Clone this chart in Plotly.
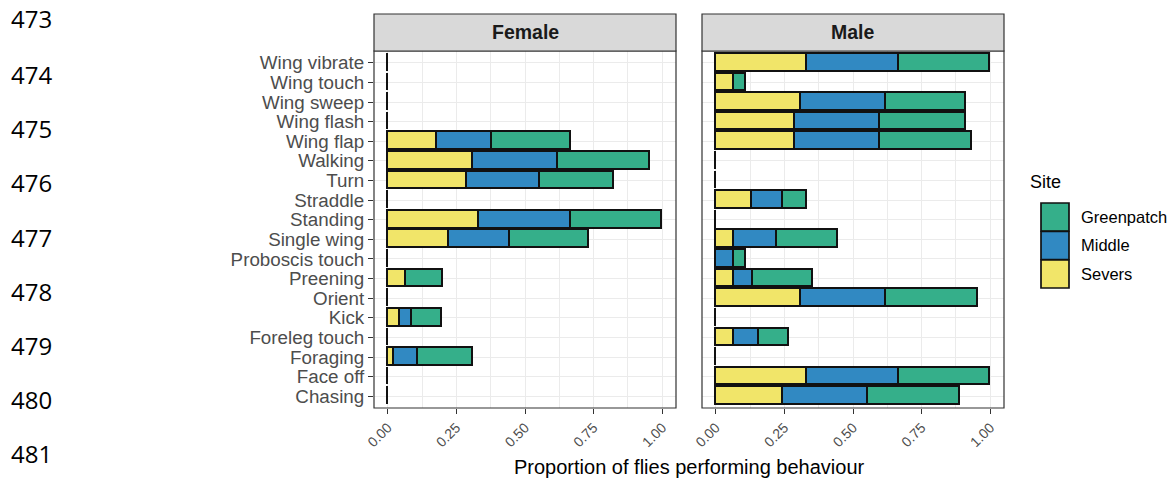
import plotly.graph_objects as go

# ---------------- data ----------------
behaviours = ["Chasing", "Face off", "Foraging", "Foreleg touch", "Kick", "Orient",
              "Preening", "Proboscis touch", "Single wing", "Standing", "Straddle",
              "Turn", "Walking", "Wing flap", "Wing flash", "Wing sweep",
              "Wing touch", "Wing vibrate"]

sites = ["Severs", "Middle", "Greenpatch"]

# stacked segment values (bottom -> top order of behaviours above)
female_severs = [0, 0, 0.022, 0, 0.044, 0, 0.067, 0, 0.222, 0.333, 0,
                 0.289, 0.311, 0.178, 0, 0, 0, 0]
female_middle = [0, 0, 0.089, 0, 0.044, 0, 0, 0, 0.222, 0.333, 0,
                 0.267, 0.311, 0.200, 0, 0, 0, 0]
female_greenpatch = [0, 0, 0.200, 0, 0.111, 0, 0.133, 0, 0.289, 0.333, 0,
                     0.267, 0.333, 0.289, 0, 0, 0, 0]

male_severs = [0.244, 0.333, 0, 0.067, 0, 0.311, 0.067, 0, 0.067, 0, 0.133,
               0, 0, 0.289, 0.289, 0.311, 0.067, 0.333]
male_middle = [0.311, 0.333, 0, 0.089, 0, 0.311, 0.067, 0.067, 0.156, 0, 0.111,
               0, 0, 0.311, 0.311, 0.311, 0, 0.333]
male_greenpatch = [0.333, 0.333, 0, 0.111, 0, 0.333, 0.222, 0.044, 0.222, 0, 0.089,
                   0, 0, 0.333, 0.311, 0.289, 0.044, 0.333]

x_ticks = [0, 0.25, 0.5, 0.75, 1.0]
x_tick_labels = ["0.00", "0.25", "0.50", "0.75", "1.00"]
x_minor = [0.125, 0.375, 0.625, 0.875]
panels = ["Female", "Male"]
line_numbers = ["473", "474", "475", "476", "477", "478", "479", "480", "481"]
line_number_y = [19, 74, 128, 183, 237, 291, 345, 399, 453]

colors = {"Severs": "#F1E569", "Middle": "#3189C2", "Greenpatch": "#35AF8A"}

# ---------------- figure ----------------
W, H = 1172, 481
fig = go.Figure()

panel_data = {
    "Female": [female_severs, female_middle, female_greenpatch],
    "Male": [male_severs, male_middle, male_greenpatch],
}

for pi, panel in enumerate(panels):
    xa = "x" if pi == 0 else "x2"
    ya = "y" if pi == 0 else "y2"
    for si, site in enumerate(sites):
        fig.add_trace(go.Bar(
            x=panel_data[panel][si], y=behaviours, orientation="h",
            xaxis=xa, yaxis=ya, width=0.9, name=site,
            marker=dict(color=colors[site], line=dict(color="#111111", width=1.7)),
            showlegend=False, hoverinfo="skip",
        ))

def px_x(p):
    return p / W

def px_y(p):
    return (H - p) / H

left_dom = [px_x(374), px_x(676)]
right_dom = [px_x(702), px_x(1004)]
y_dom = [px_y(408), px_y(51)]

axis_common = dict(
    range=[-0.05, 1.05], tickmode="array", tickvals=x_ticks, ticktext=x_tick_labels,
    tickangle=-45, ticks="outside", ticklen=5, tickcolor="#333333", tickwidth=1.1,
    tickfont=dict(family="Liberation Sans, Arial", size=14, color="#4D4D4D"),
    showgrid=True, gridcolor="#EBEBEB", gridwidth=1.1, zeroline=False,
    minor=dict(tickvals=x_minor, showgrid=True, gridcolor="#EBEBEB", gridwidth=0.6),
    showline=False, fixedrange=True, automargin=False,
)

fig.update_layout(
    width=W, height=H, margin=dict(l=0, r=0, t=0, b=0, autoexpand=False),
    plot_bgcolor="white", paper_bgcolor="white",
    barmode="stack", bargap=0,
    xaxis=dict(domain=left_dom, anchor="y", **axis_common),
    xaxis2=dict(domain=right_dom, anchor="y2", **axis_common),
    yaxis=dict(domain=y_dom, anchor="x", categoryorder="array", categoryarray=behaviours,
               tickmode="array", tickvals=behaviours, ticktext=behaviours,
               range=[-0.6, 17.6], ticks="outside", ticklen=5, tickcolor="#333333",
               tickwidth=1.1, showgrid=True, gridcolor="#EBEBEB", gridwidth=1.1,
               tickfont=dict(family="Liberation Sans, Arial", size=18.8, color="#4D4D4D"),
               zeroline=False, fixedrange=True, automargin=False),
    yaxis2=dict(domain=y_dom, anchor="x2", matches="y", categoryorder="array",
                categoryarray=behaviours, tickmode="array", tickvals=behaviours,
                range=[-0.6, 17.6], showticklabels=False,
                ticks="", showgrid=True, gridcolor="#EBEBEB", gridwidth=1.1,
                zeroline=False, fixedrange=True, automargin=False),
    font=dict(family="Liberation Sans, Arial"),
)

shapes = []
annotations = []
for pi, panel in enumerate(panels):
    xr = "x domain" if pi == 0 else "x2 domain"
    yr = "y domain" if pi == 0 else "y2 domain"
    # panel border
    shapes.append(dict(type="rect", xref=xr, yref=yr, x0=0, x1=1, y0=0, y1=1,
                       line=dict(color="#333333", width=1.2), layer="above"))
    # strip
    shapes.append(dict(type="rect", xref=xr, yref="paper", x0=0, x1=1,
                       y0=px_y(51), y1=px_y(14), fillcolor="#D9D9D9",
                       line=dict(color="#333333", width=1.2)))
    annotations.append(dict(xref=xr, yref="paper", x=0.5, y=px_y(32.5), text="<b>%s</b>" % panel,
                            showarrow=False, xanchor="center", yanchor="middle",
                            font=dict(size=19.5, color="#1A1A1A", family="Liberation Sans, Arial")))

# axis title
annotations.append(dict(xref="paper", yref="paper", x=px_x(689), y=px_y(467),
                        text="Proportion of flies performing behaviour", showarrow=False,
                        xanchor="center", yanchor="middle",
                        font=dict(size=20, color="#000000", family="Liberation Sans, Arial")))

# legend (manual)
annotations.append(dict(xref="paper", yref="paper", x=px_x(1028), y=px_y(181.5), text="Site",
                        showarrow=False, xanchor="left", yanchor="middle",
                        font=dict(size=18, color="#000000", family="Liberation Sans, Arial")))
legend_order = ["Greenpatch", "Middle", "Severs"]
key_top = [203, 231.5, 260]
for site, top in zip(legend_order, key_top):
    shapes.append(dict(type="rect", xref="paper", yref="paper",
                       x0=px_x(1041), x1=px_x(1069), y0=px_y(top + 28), y1=px_y(top),
                       fillcolor=colors[site], line=dict(color="#111111", width=1.7)))
    annotations.append(dict(xref="paper", yref="paper", x=px_x(1079), y=px_y(top + 14),
                            text=site, showarrow=False, xanchor="left", yanchor="middle",
                            font=dict(size=16.5, color="#000000", family="Liberation Sans, Arial")))

# document line numbers
for ln, yy in zip(line_numbers, line_number_y):
    annotations.append(dict(xref="paper", yref="paper", x=px_x(9), y=px_y(yy), text=ln,
                            showarrow=False, xanchor="left", yanchor="middle",
                            font=dict(size=24, color="#000000", family="Open Sans, Liberation Sans")))

fig.update_layout(shapes=shapes, annotations=annotations)

fig.write_html(
    "out.html",
    config={"responsive": False, "displayModeBar": False},
    post_script="document.body.style.margin='0';document.body.style.overflow='hidden';",
)
